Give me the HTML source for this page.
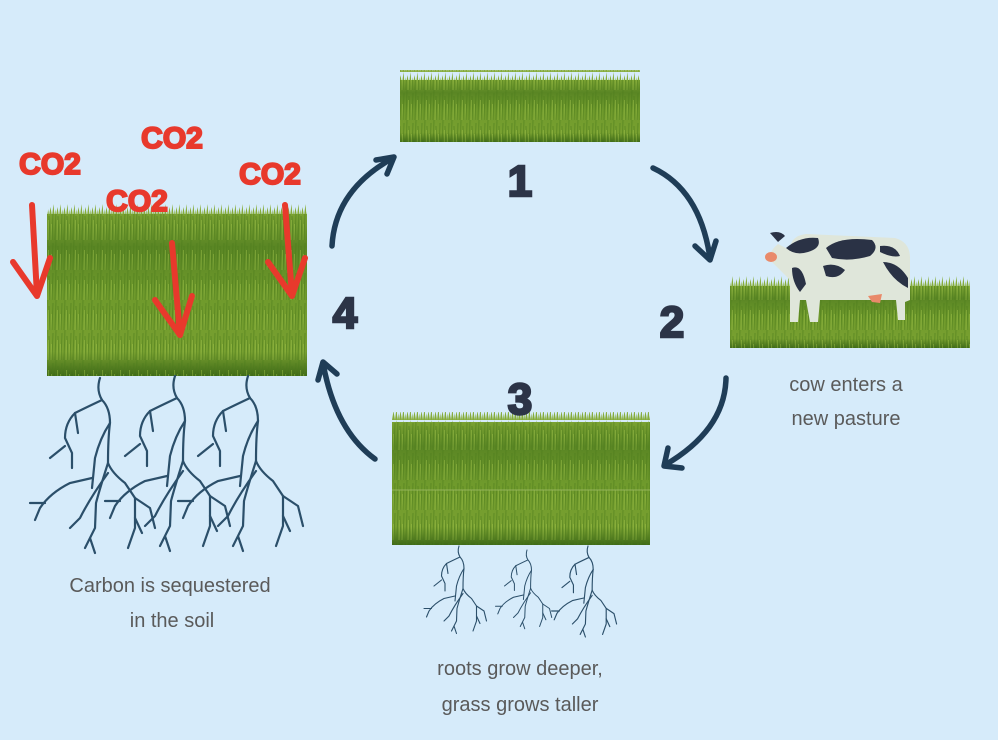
<!DOCTYPE html>
<html><head><meta charset="utf-8"><style>
html,body{margin:0;padding:0;background:#d6ebfa;}
svg{display:block}
</style></head><body>
<svg width="998" height="740" viewBox="0 0 998 740" xmlns="http://www.w3.org/2000/svg">
<defs>
<linearGradient id="g" x1="0" y1="0" x2="0" y2="1">
<stop offset="0" stop-color="#7aa232"/><stop offset="0.2" stop-color="#5a8624"/><stop offset="0.5" stop-color="#6f9a2c"/><stop offset="0.85" stop-color="#78a030"/><stop offset="1" stop-color="#3f6a18"/>
</linearGradient>
<pattern id="bl" width="9" height="30" patternUnits="userSpaceOnUse">
<path d="M1,30 L2,0 M5,30 L4,6 M7,30 L8,3" stroke="#4a7a1a" stroke-width="1" opacity="0.55"/>
<path d="M3,30 L3.5,10 M6,30 L6.5,14" stroke="#a6c84e" stroke-width="0.8" opacity="0.5"/>
</pattern>
<pattern id="tip" width="7" height="12" patternUnits="userSpaceOnUse">
<path d="M0,12 L1.5,3 L3,12 L4.5,0 L5.5,12 L6.3,5 L7,12Z" fill="#86ac3a"/>
</pattern>
<g id="root" fill="none" stroke="#2b4f6a" stroke-width="2.2" stroke-linecap="round">
<path d="M0,0 Q-4,12 2,22 Q10,30 10,45 Q8,60 8,85 Q12,95 25,105 L35,120 L35,150 L28,170"/>
<path d="M2,22 Q-15,30 -25,35 Q-35,45 -35,60 L-28,75 L-28,90"/>
<path d="M-25,35 L-22,55"/>
<path d="M-35,68 L-50,80"/>
<path d="M10,45 Q0,60 -5,80 L-8,110"/>
<path d="M-8,100 L-30,105 Q-50,115 -60,130 L-65,142 M-55,125 L-70,125"/>
<path d="M8,85 Q0,110 -4,125 L-5,150 L-15,170 M-10,160 L-5,175"/>
<path d="M35,120 L50,130 L55,150 M35,140 L42,155"/>
<path d="M8,95 Q-10,120 -20,140 L-30,150"/>
</g>
</defs>

<!-- grass blocks -->
<g>
<rect x="400" y="70" width="240" height="12" fill="url(#tip)"/>
<rect x="400" y="80" width="240" height="62" fill="url(#g)"/><rect x="400" y="80" width="240" height="62" fill="url(#bl)"/>
<rect x="47" y="204" width="260" height="12" fill="url(#tip)"/>
<rect x="47" y="214" width="260" height="162" fill="url(#g)"/><rect x="47" y="214" width="260" height="162" fill="url(#bl)"/>
<rect x="730" y="276" width="240" height="12" fill="url(#tip)"/>
<rect x="730" y="286" width="240" height="62" fill="url(#g)"/><rect x="730" y="286" width="240" height="62" fill="url(#bl)"/>
<rect x="392" y="412" width="258" height="12" fill="url(#tip)"/>
<rect x="392" y="422" width="258" height="123" fill="url(#g)"/><rect x="392" y="422" width="258" height="123" fill="url(#bl)"/>
<line x1="392" y1="490" x2="650" y2="490" stroke="#9ab860" stroke-width="1.5" opacity="0.6"/>
</g>

<!-- cow -->
<g>
<path d="M790,250 Q790,236 806,234 L895,238 Q910,242 910,258 L910,300 L905,302 L905,320 L898,320 L896,300 L820,300 L818,322 L810,322 L806,300 L800,300 L798,322 L790,322 L790,280 Q780,270 772,262 Q766,254 778,244 Z" fill="#dfe6da"/>
<path d="M770,233 Q780,230 785,236 L778,242 Z" fill="#2a3245"/>
<path d="M786,248 Q800,236 818,238 Q822,248 808,252 Q795,256 786,248Z" fill="#2a3245"/>
<path d="M826,248 Q840,236 872,240 Q880,248 870,256 Q850,262 832,258 Z" fill="#2a3245"/>
<path d="M880,246 Q895,244 900,256 Q892,258 880,252Z" fill="#2a3245"/>
<path d="M792,268 Q802,264 806,284 L800,292 Q792,282 792,268Z" fill="#2a3245"/>
<path d="M823,266 Q835,262 845,270 Q838,280 826,276Z" fill="#2a3245"/>
<path d="M883,262 Q898,262 908,278 L908,288 Q892,280 883,262Z" fill="#2a3245"/>
<ellipse cx="771" cy="257" rx="6" ry="5" fill="#e98a6a"/>
<path d="M868,296 L882,294 L880,303 L872,302Z" fill="#e98a6a"/>
</g>

<!-- roots -->
<use href="#root" x="100" y="378"/>
<use href="#root" x="175" y="376"/>
<use href="#root" x="248" y="376"/>
<use href="#root" transform="translate(459,546) scale(0.5)"/>
<use href="#root" transform="translate(527,550) scale(0.45)"/>
<use href="#root" transform="translate(588,546) scale(0.52)"/>

<!-- cycle arrows -->
<g fill="none" stroke="#1f3d57" stroke-width="5.5" stroke-linecap="round" stroke-linejoin="round">
<path d="M332,246 Q335,190 393,158"/><path d="M376,160 L394,157 L387,174"/>
<path d="M653,168 Q700,190 710,258"/><path d="M695,246 L710,260 L716,241"/>
<path d="M726,378 Q725,430 665,465"/><path d="M668,448 L664,466 L682,468"/>
<path d="M375,459 Q335,430 323,363"/><path d="M318,380 L323,362 L337,374"/>
</g>

<!-- numbers -->
<g font-family="Liberation Sans, sans-serif" font-weight="bold" font-size="44" fill="#2c3447" stroke="#2c3447" stroke-width="2.5" text-anchor="middle">
<text x="520" y="196">1</text>
<text x="672" y="337">2</text>
<text x="520" y="414">3</text>
<text x="345" y="328">4</text>
</g>

<!-- CO2 -->
<g font-family="Liberation Sans, sans-serif" font-weight="bold" font-size="30" fill="#e8392c" stroke="#e8392c" stroke-width="2" text-anchor="middle">
<text x="50" y="174">CO2</text>
<text x="172" y="148">CO2</text>
<text x="137" y="211">CO2</text>
<text x="270" y="184">CO2</text>
</g>
<g fill="none" stroke="#e8392c" stroke-width="6" stroke-linecap="round" stroke-linejoin="round">
<path d="M32,205 L37,295"/><path d="M13,262 L37,296 L50,258"/>
<path d="M172,243 L180,335"/><path d="M155,300 L180,335 L192,296"/>
<path d="M285,205 L292,295"/><path d="M268,262 L292,296 L305,258"/>
</g>

<!-- labels -->
<g font-family="Liberation Sans, sans-serif" font-size="20" fill="#5a5a5a" text-anchor="middle">
<text x="846" y="391">cow enters a</text>
<text x="846" y="425">new pasture</text>
<text x="170" y="592">Carbon is sequestered</text>
<text x="172" y="627">in the soil</text>
<text x="520" y="675">roots grow deeper,</text>
<text x="520" y="711">grass grows taller</text>
</g>
</svg>
</body></html>
